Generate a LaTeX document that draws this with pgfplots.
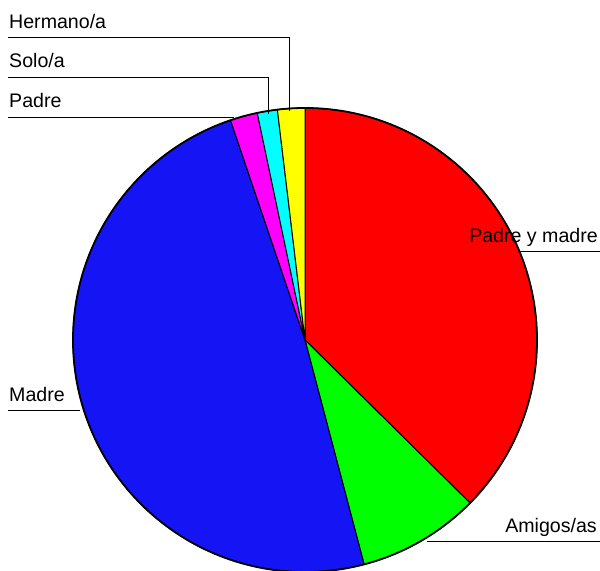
\documentclass[border=0pt]{standalone}
\usepackage{pgfplots}
\usepackage{pgfplotstable}
\pgfplotsset{compat=1.18}
\usepackage{fontspec}
\setmainfont{Liberation Sans}

\definecolor{pred}{RGB}{255,0,0}
\definecolor{pgreen}{RGB}{0,255,0}
\definecolor{pblue}{RGB}{20,20,245}
\definecolor{pmagenta}{RGB}{255,0,255}
\definecolor{pcyan}{RGB}{0,255,255}
\definecolor{pyellow}{RGB}{255,255,0}

% pie shares (percent), clockwise from the top
\pgfplotstableread{
name value color
{Padre y madre} 37.4 pred
{Amigos/as} 8.5 pgreen
{Madre} 48.9 pblue
{Padre} 1.9 pmagenta
{Solo/a} 1.4 pcyan
{Hermano/a} 1.9 pyellow
}\pietable

\begin{document}
\begin{tikzpicture}
\def\cum{0}
\pgfplotsforeachungrouped \i in {0,...,5}{%
  \pgfplotstablegetelem{\i}{value}\of\pietable
  \let\v\pgfplotsretval
  \pgfmathsetmacro\start{90-3.6*\cum}%
  \pgfmathsetmacro\cum{\cum+\v}%
  \pgfmathsetmacro\stop{90-3.6*\cum}%
  \expandafter\xdef\csname sa\i\endcsname{\start}%
  \expandafter\xdef\csname ea\i\endcsname{\stop}%
  \pgfplotstablegetelem{\i}{color}\of\pietable
  \colorlet{pie\i}{\pgfplotsretval}%
}
\begin{axis}[
    at={(0,0)}, anchor=south west,
    scale only axis,
    width=600bp, height=571bp,
    xmin=0, xmax=600, ymin=0, ymax=571,
    hide axis, clip=false,
    font=\fontsize{19.6bp}{23bp}\selectfont
]
\pgfplotsinvokeforeach{0,...,5}{
  \filldraw[fill=pie#1, draw=black, line width=1bp]
    (axis cs:305,231) -- ++(\csname sa#1\endcsname:232bp)
    arc[start angle=\csname sa#1\endcsname, end angle=\csname ea#1\endcsname, radius=232bp] -- cycle;
}
\draw[line width=1.8bp] (axis cs:305,231) circle[radius=232bp];

% leader lines and labels
\draw[line width=1bp] (axis cs:8,533) -- (axis cs:289,533) -- (axis cs:289,460);
\node[anchor=base west, inner sep=0pt] at (axis cs:9,542) {Hermano/a};
\draw[line width=1bp] (axis cs:8,493) -- (axis cs:268,493) -- (axis cs:268,457);
\node[anchor=base west, inner sep=0pt] at (axis cs:9,503) {Solo/a};
\draw[line width=1bp] (axis cs:8,453) -- (axis cs:234,453);
\node[anchor=base west, inner sep=0pt] at (axis cs:9,463) {Padre};
\draw[line width=1bp] (axis cs:8,160) -- (axis cs:80,160);
\node[anchor=base west, inner sep=0pt] at (axis cs:9,169) {Madre};
\draw[line width=1bp] (axis cs:518,319) -- (axis cs:600,319);
\node[anchor=base east, inner sep=0pt] at (axis cs:598,328) {Padre y madre};
\draw[line width=1bp] (axis cs:427,29) -- (axis cs:600,29);
\node[anchor=base east, inner sep=0pt] at (axis cs:597,38) {Amigos/as};
\end{axis}
\pgfresetboundingbox
\path (0,0) rectangle (600bp,571bp);
\end{tikzpicture}
\end{document}
